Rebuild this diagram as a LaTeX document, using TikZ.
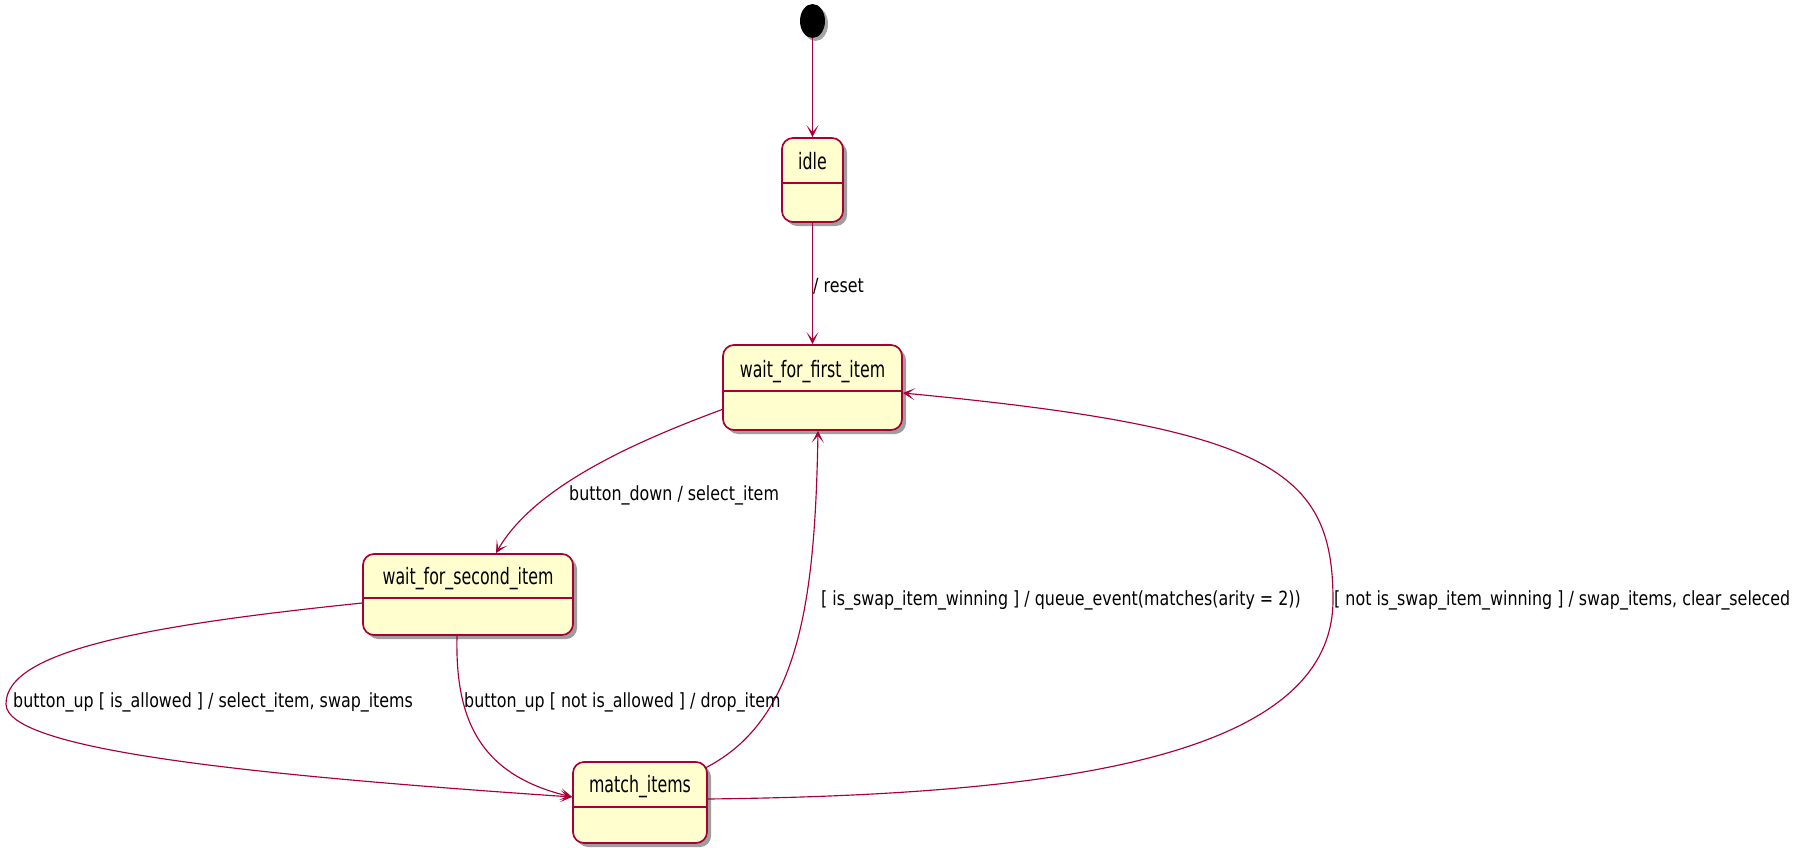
\documentclass[tikz,border=0pt]{standalone}
\usepackage{fontspec}
\newfontfamily\umlfont[FakeStretch=0.7]{DejaVu Sans}
\newfontfamily\umllabelfont[FakeStretch=0.815]{DejaVu Sans}
\usetikzlibrary{arrows.meta,shadows,shapes.geometric}
\definecolor{umlred}{HTML}{A80036}
\definecolor{umlfill}{HTML}{FEFECE}
\begin{document}
\begin{tikzpicture}[x=1pt,y=-1pt,
  statebox/.style={draw=umlred, fill=umlfill, line width=1.7pt, rounded corners=11pt,
    drop shadow={shadow xshift=4pt, shadow yshift=-4pt, fill=black, opacity=0.38}, inner sep=0pt},
  statename/.style={font=\umlfont\fontsize{22.6}{26}\selectfont, anchor=base, inner sep=0pt},
  divider/.style={draw=umlred, line width=1.6pt},
  trans/.style={draw=umlred, line width=1.15pt, -{Stealth[length=12pt,width=12pt,inset=7pt]}},
  elabel/.style={font=\umllabelfont\fontsize{19.5}{22}\selectfont, anchor=base west, inner sep=0pt}
]
\useasboundingbox (0,0) rectangle (1810,848);

% start
\node[ellipse, fill=black, minimum width=25pt, minimum height=34pt, inner sep=0pt,
  drop shadow={shadow xshift=3pt, shadow yshift=-3pt, fill=black, opacity=0.35}] (start) at (812.5,21) {};

% states
\node[statebox, minimum width=61pt, minimum height=84pt] (idle) at (812.5,180) {};
\node[statename] (idlename) at ([yshift=-32pt]idle.north) {idle};
\draw[divider] ([yshift=-3pt]idle.west) -- ([yshift=-3pt]idle.east);

\node[statebox, minimum width=179pt, minimum height=85pt] (wfi) at (812.5,387.5) {};
\node[statename] (wfiname) at ([yshift=-33pt]wfi.north) {wait\_for\_first\_item};
\draw[divider] ([yshift=-3.5pt]wfi.west) -- ([yshift=-3.5pt]wfi.east);

\node[statebox, minimum width=210pt, minimum height=81pt] (wfs) at (468,594.5) {};
\node[statename] (wfsname) at ([yshift=-31pt]wfs.north) {wait\_for\_second\_item};
\draw[divider] ([yshift=-3.5pt]wfs.west) -- ([yshift=-3.5pt]wfs.east);

\node[statebox, minimum width=134pt, minimum height=81pt] (match) at (640,802.5) {};
\node[statename] (matchname) at ([yshift=-31pt]match.north) {match\_items};
\draw[divider] ([yshift=-4.5pt]match.west) -- ([yshift=-4.5pt]match.east);

% transitions
\draw[trans] (start.south) -- (idle.north);
\draw[trans] (idle.south) -- (wfi.north);
\draw[trans] ([yshift=-22pt]wfi.west) .. controls (640,440) and (535,485) .. ([xshift=28pt]wfs.north);
\coordinate (leftturn) at (6,704);
\draw[trans] ([yshift=-8.5pt]wfs.west) .. controls (150,625) and (6,650) .. (leftturn)
  .. controls (6,750) and (250,775) .. ([yshift=5.5pt]match.west);
\draw[trans] ([xshift=-11pt]wfs.south) .. controls (455,720) and (480,775) .. ([yshift=5.5pt]match.west);
\draw[trans] ([xshift=-3pt,yshift=-7pt]match.north east) .. controls (800,720) and (815,600) .. ([xshift=5.5pt]wfi.south);
\coordinate (rightturn) at (1333,600);
\draw[trans] ([yshift=3.5pt]match.east) .. controls (1050,795) and (1333,760) .. (rightturn)
  .. controls (1333,470) and (1270,428) .. ([yshift=-5.5pt]wfi.east);

% labels
\node[elabel] (lreset) at (813,292) {/ reset};
\node[elabel] (lbd) at (569,500) {button\_down / select\_item};
\node[elabel] (lup1) at (13,707) {button\_up [ is\_allowed ] / select\_item, swap\_items};
\node[elabel] (lup2) at (464,707) {button\_up [ not is\_allowed ] / drop\_item};
\node[elabel] (lsw1) at (821,605) {[ is\_swap\_item\_winning ] / queue\_event(matches(arity = 2))};
\node[elabel] (lsw2) at (1334,605) {[ not is\_swap\_item\_winning ] / swap\_items, clear\_seleced};
\end{tikzpicture}
\end{document}
